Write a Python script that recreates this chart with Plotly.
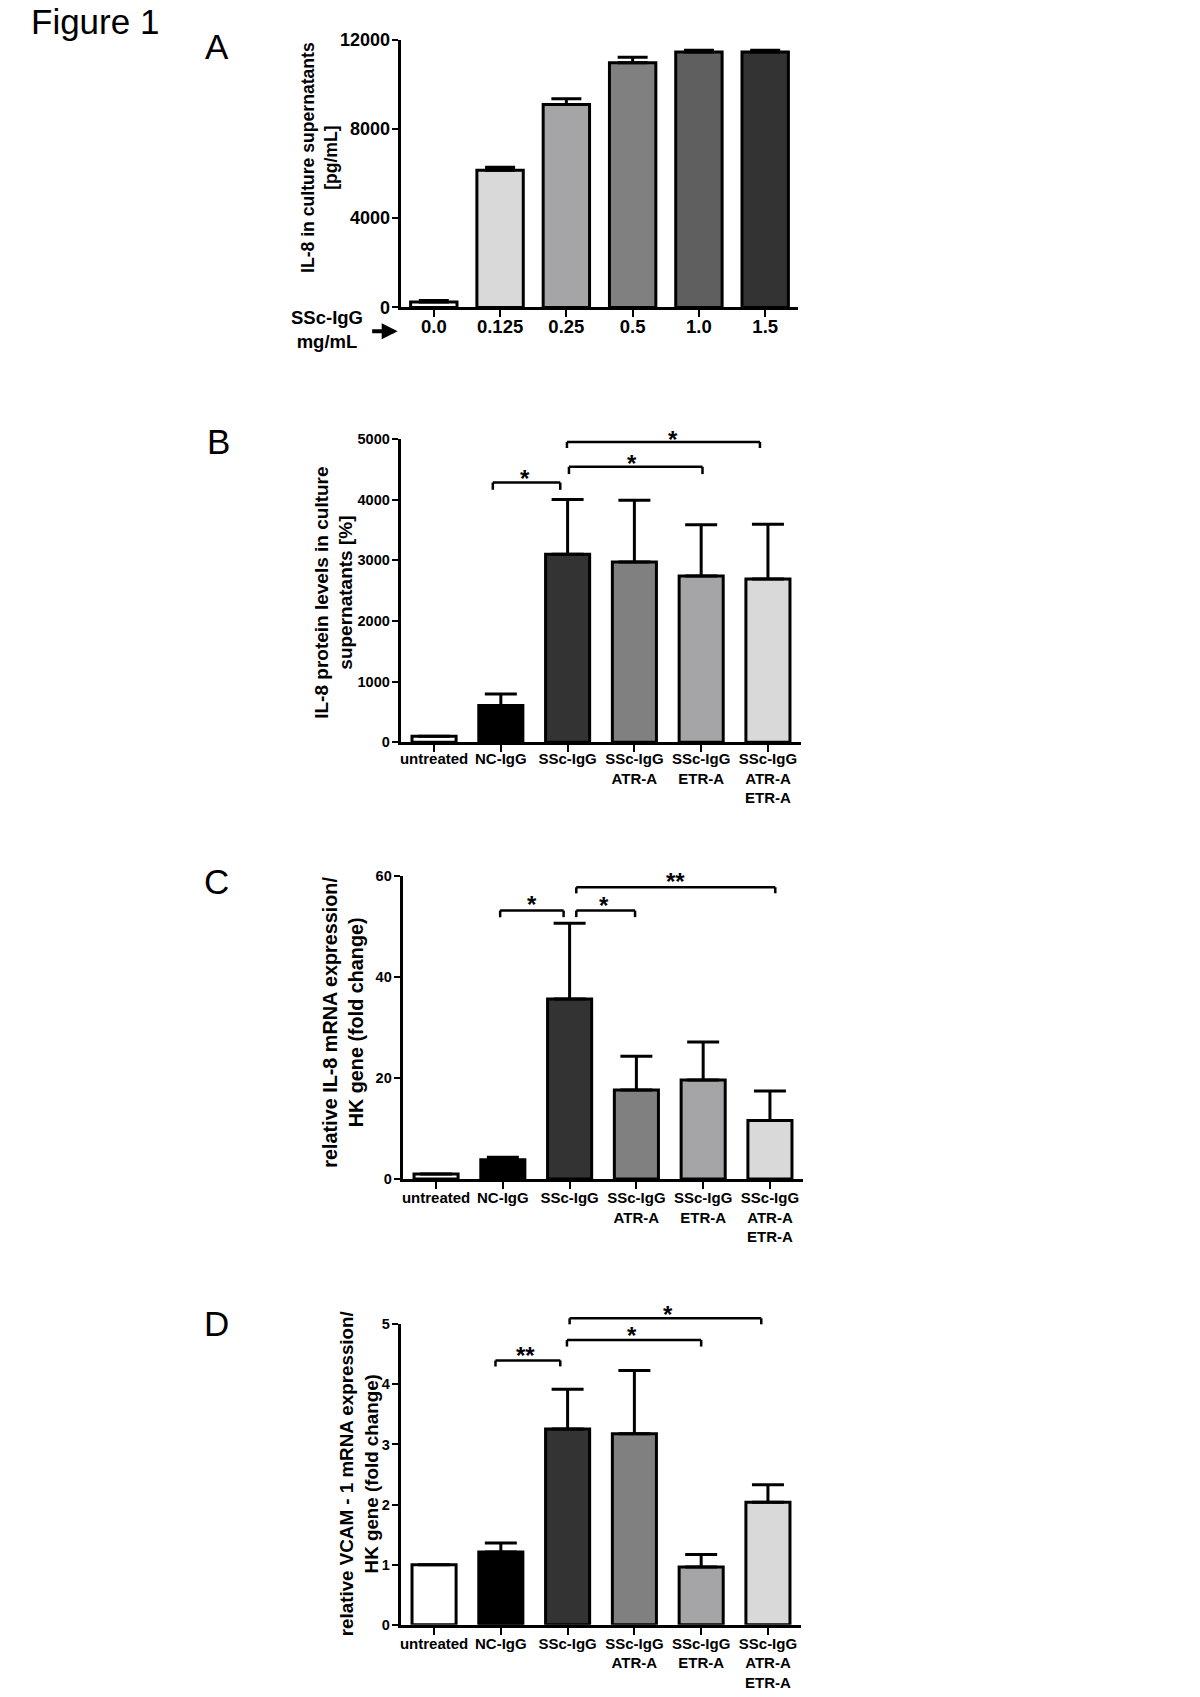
import plotly.graph_objects as go

W, H = 1200, 1697
FONT = "Liberation Sans, Arial, sans-serif"

# ---------------- data ----------------
a_categories = ["0.0", "0.125", "0.25", "0.5", "1.0", "1.5"]
a_values = [250, 6150, 9090, 10960, 11450, 11450]
a_errors = [60, 130, 260, 250, 70, 70]
a_colors = ["#ffffff", "#d9d9d9", "#a5a5a8", "#808080", "#5f5f5f", "#333333"]
a_yticks = [0, 4000, 8000, 12000]

groups = ["untreated", "NC-IgG", "SSc-IgG", "SSc-IgG<br>ATR-A",
          "SSc-IgG<br>ETR-A", "SSc-IgG<br>ATR-A<br>ETR-A"]
group_colors = ["#ffffff", "#000000", "#333333", "#808080", "#a5a5a8", "#d9d9d9"]

b_values = [100, 605, 3100, 2970, 2740, 2690]
b_errors = [0, 190, 900, 1020, 845, 905]
b_yticks = [0, 1000, 2000, 3000, 4000, 5000]
# (x_from, x_to, level, drop, label, label_x, label_level)
b_brackets = [(0.88, 1.89, 4280, 120, "*", 1.36, 4446),
              (2.02, 4.02, 4540, 120, "*", 2.97, 4693),
              (1.99, 4.88, 4950, 100, "*", 3.58, 5088)]

c_values = [1.0, 3.8, 35.6, 17.6, 19.6, 11.6]
c_errors = [0, 0.5, 15.0, 6.7, 7.5, 5.8]
c_yticks = [0, 20, 40, 60]
c_brackets = [(0.96, 1.91, 53.1, 1.3, "*", 1.44, 55.4),
              (2.10, 2.98, 53.1, 1.3, "*", 2.51, 55.3),
              (2.10, 5.08, 57.7, 1.2, "**", 3.58, 60.0)]

d_values = [1.0, 1.21, 3.26, 3.18, 0.96, 2.04]
d_errors = [0, 0.15, 0.66, 1.05, 0.21, 0.29]
d_yticks = [0, 1, 2, 3, 4, 5]
d_brackets = [(0.92, 1.89, 4.40, 0.10, "**", 1.37, 4.58),
              (1.99, 4.00, 4.74, 0.11, "*", 2.97, 4.91),
              (2.03, 4.90, 5.10, 0.10, "*", 3.50, 5.26)]


def PX(x):
    return x / W


def PY(y):
    return 1 - y / H


fig = go.Figure()

panels = [
    dict(cats=a_categories, vals=a_values, errs=a_errors, colors=a_colors,
         yticks=a_yticks, ymax=12000, dx=(400, 798), dy=(30, 301), bw=0.7,
         xfs=18.5, yfs=18, ew=15, brackets=[], xso=-7, yso=-2,
         title="IL-8 in culture supernatants<br>[pg/mL]", tfs=17.6, tx=319, ty=149,
         letter="A", lx=216, ly=37),
    dict(cats=groups, vals=b_values, errs=b_errors, colors=group_colors,
         yticks=b_yticks, ymax=5000, dx=(400, 801), dy=(434, 741), bw=0.66,
         xfs=15, yfs=14.5, ew=16, brackets=b_brackets, xso=-6, yso=-1,
         title="IL-8 protein levels in culture<br>supernatants [%]", tfs=19, tx=333, ty=590,
         letter="B", lx=218, ly=437),
    dict(cats=groups, vals=c_values, errs=c_errors, colors=group_colors,
         yticks=c_yticks, ymax=60, dx=(402, 803), dy=(876, 1183), bw=0.66,
         xfs=15, yfs=14.5, ew=16, brackets=c_brackets, xso=-4, yso=-1,
         title="relative IL-8 mRNA expression/<br>HK gene (fold change)", tfs=19.8, tx=342, ty=1024,
         letter="C", lx=216, ly=882),
    dict(cats=groups, vals=d_values, errs=d_errors, colors=group_colors,
         yticks=d_yticks, ymax=5, dx=(400, 801), dy=(1330, 1634), bw=0.66,
         xfs=15, yfs=14.5, ew=16, brackets=d_brackets, xso=-4, yso=-1,
         title="relative VCAM - 1 mRNA expression/<br>HK gene (fold change)", tfs=18.8, tx=358, ty=1481,
         letter="D", lx=216, ly=1329),
]

annotations = []
shapes = []
layout_axes = {}

for i, p in enumerate(panels, start=1):
    xa = "x" if i == 1 else f"x{i}"
    ya = "y" if i == 1 else f"y{i}"
    xpos = list(range(len(p["cats"])))
    fig.add_trace(go.Bar(
        x=xpos, y=p["vals"], width=p["bw"],
        marker=dict(color=p["colors"], line=dict(color="black", width=3)),
        error_y=dict(type="data", symmetric=False, array=p["errs"],
                     arrayminus=[0] * len(p["errs"]), color="black",
                     thickness=3, width=p["ew"]),
        xaxis=xa, yaxis=ya, showlegend=False, hoverinfo="skip",
    ))
    xkey = "xaxis" if i == 1 else f"xaxis{i}"
    ykey = "yaxis" if i == 1 else f"yaxis{i}"
    layout_axes[xkey] = dict(
        domain=[PX(p["dx"][0]), PX(p["dx"][1])], anchor=ya,
        range=[-0.5, len(p["cats"]) - 0.5], tickmode="array",
        tickvals=xpos, ticktext=p["cats"], showline=True, linewidth=3,
        linecolor="black", ticks="outside", ticklen=7, tickwidth=2,
        tickcolor="black", showgrid=False, zeroline=False,
        ticklabelstandoff=p["xso"],
        tickfont=dict(family=FONT, size=p["xfs"], color="black", weight="bold"),
        fixedrange=True,
    )
    layout_axes[ykey] = dict(
        domain=[PY(p["dy"][1]), PY(p["dy"][0])], anchor=xa,
        range=[0, p["ymax"]], tickmode="array", tickvals=p["yticks"],
        ticktext=[str(v) for v in p["yticks"]],
        showline=True, linewidth=3, linecolor="black", ticks="outside",
        ticklen=6, tickwidth=2, tickcolor="black", showgrid=False,
        zeroline=False, ticklabelstandoff=p["yso"],
        tickfont=dict(family=FONT, size=p["yfs"], color="black", weight="bold"),
        fixedrange=True,
    )
    # y-axis title (two lines, rotated)
    annotations.append(dict(
        xref="paper", yref="paper", x=PX(p["tx"]), y=PY(p["ty"]),
        text=p["title"], textangle=-90, showarrow=False,
        xanchor="center", yanchor="middle",
        font=dict(family=FONT, size=p["tfs"], color="black", weight="bold"),
    ))
    # panel letter
    annotations.append(dict(
        xref="paper", yref="paper", x=PX(p["lx"]), y=PY(p["ly"]),
        text=p["letter"], showarrow=False, xanchor="center", yanchor="middle",
        font=dict(family=FONT, size=35, color="black"),
    ))
    # significance brackets
    ydom = f"{ya} domain"
    for (x0, x1, lev, drop, lab, lx, llev) in p["brackets"]:
        top = lev / p["ymax"]
        bot = (lev - drop) / p["ymax"]
        for (sx0, sy0, sx1, sy1) in [(x0, bot, x0, top), (x0, top, x1, top), (x1, top, x1, bot)]:
            shapes.append(dict(type="line", xref=xa, yref=ydom,
                               x0=sx0, y0=sy0, x1=sx1, y1=sy1,
                               line=dict(color="black", width=2.5)))
        annotations.append(dict(
            xref=xa, yref=ydom, x=lx, y=llev / p["ymax"], text=lab,
            showarrow=False, xanchor="center", yanchor="middle", yshift=-6,
            font=dict(family=FONT, size=24, color="black", weight="bold"),
        ))

# Figure label
annotations.append(dict(
    xref="paper", yref="paper", x=PX(94), y=PY(12), text="Figure 1",
    showarrow=False, xanchor="center", yanchor="middle",
    font=dict(family=FONT, size=35, color="black"),
))
# SSc-IgG mg/mL label with arrow in panel A
annotations.append(dict(
    xref="paper", yref="paper", x=PX(326), y=PY(323), text="SSc-IgG<br>mg/mL",
    showarrow=False, xanchor="center", yanchor="middle",
    font=dict(family=FONT, size=18.5, color="black", weight="bold"),
))
annotations.append(dict(
    xref="paper", yref="paper", x=PX(397), y=PY(325), text="",
    showarrow=True, arrowhead=2, arrowsize=0.8, arrowwidth=4,
    arrowcolor="black", ax=-27, ay=0,
))

fig.update_layout(
    width=W, height=H, margin=dict(l=0, r=0, t=0, b=0),
    paper_bgcolor="white", plot_bgcolor="white",
    font=dict(family=FONT, color="black"),
    annotations=annotations, shapes=shapes, showlegend=False,
    bargap=0.3,
    **layout_axes,
)

fig.write_html(
    "out.html",
    config={"displayModeBar": False, "staticPlot": True},
    post_script="document.body.style.margin='0';document.body.style.overflow='hidden';",
)
